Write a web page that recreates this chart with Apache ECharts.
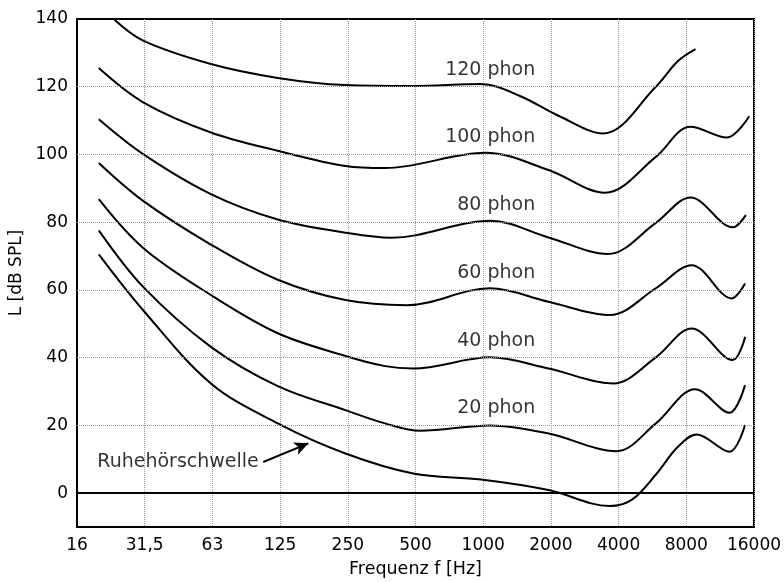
<!DOCTYPE html>
<html>
<head>
<meta charset="utf-8">
<script src="https://cdn.jsdelivr.net/npm/echarts@6/dist/echarts.min.js"></script>
<style>
  html, body { margin: 0; padding: 0; background: #fff; }
  #chart { width: 784px; height: 582px; }
</style>
</head>
<body>
<div id="chart"></div>
<script>
// x-axis: octaves above 16 Hz, labelled with the nominal band frequencies
const freqLabels = ['16', '31,5', '63', '125', '250', '500', '1000', '2000', '4000', '8000', '16000']
const yLabelValues = [0, 20, 40, 60, 80, 100, 120, 140]
const yGridValues = [20, 40, 60, 80, 100, 120]

// curves as [frequency Hz, level dB SPL]
const phon120 = [[23.3, 140], [31.5, 133.6], [63, 126.7], [125, 122.6], [250, 120.5], [500, 120.2], [1000, 120.8], [1500, 117.2], [2200, 111.5], [3500, 106.2], [6000, 120], [7500, 127.5], [9000, 131.1]]
const phon100 = [[20, 125.5], [31.5, 115.4], [63, 106.5], [125, 101.1], [250, 96.6], [375, 96], [1050, 100.5], [2000, 95.4], [3565, 88.7], [6000, 99.3], [8550, 108.2], [12400, 105], [15600, 111.3]]
const phon80 = [[20, 110.4], [31.5, 100.1], [63, 88.3], [125, 80.8], [250, 76.9], [400, 75.4], [1100, 80.4], [2000, 75.5], [3670, 70.6], [6000, 79.8], [8550, 87.3], [13200, 78.5], [15070, 82.1]]
const phon60 = [[20, 97.5], [31.5, 86.3], [63, 73.4], [125, 63], [250, 57], [468, 55.5], [1100, 60.5], [2000, 56.5], [3740, 52.6], [6000, 60.5], [8650, 67.3], [13050, 57.5], [14950, 61.9]]
const phon40 = [[20, 86.8], [31.5, 72.4], [63, 58.5], [125, 47.2], [250, 40.5], [375, 37.5], [500, 36.8], [1100, 40.1], [2000, 36.8], [3870, 32.4], [6000, 40.1], [8650, 48.6], [13170, 39.3], [14980, 46.2]]
const phon20 = [[20, 77.6], [31.5, 60.9], [63, 43.2], [125, 31.6], [250, 24.5], [375, 20.6], [537, 18.4], [1100, 20], [2000, 17.6], [4010, 12.4], [6000, 20.6], [8960, 30.7], [12750, 23.7], [14950, 31.9]]
const threshold = [[20, 70.5], [31.5, 54], [63, 32.4], [125, 20.6], [250, 11.7], [500, 5.8], [1000, 4], [2000, 0.9], [3740, -3.8], [4700, -1.9], [6000, 5.5], [7500, 13.6], [9090, 17.3], [12750, 12.2], [14950, 20.1]]

const phonNames = ['120 phon', '100 phon', '80 phon', '60 phon', '40 phon', '20 phon']
const phonLevels = [120, 100, 80, 60, 40, 20]
const labelFreq = 1745
const thresholdText = 'Ruhehörschwelle'
const thresholdTextPos = [19.7, 9.2]
const arrowFrom = [107.7, 9.2]
const arrowTo = [171, 14.7]

const fontFamily = 'DejaVu Sans'
const toX = f => Math.log2(f / 16)

function curve(name, pts) {
  return {
    name: name,
    type: 'line',
    data: pts.map(p => [toX(p[0]), p[1]]),
    smooth: 0.35,
    showSymbol: false,
    lineStyle: { color: '#000', width: 2 },
    z: 3,
  }
}

const curves = [phon120, phon100, phon80, phon60, phon40, phon20]
const series = curves.map((c, i) => curve(phonNames[i], c))

const thresholdSeries = curve(thresholdText, threshold)
thresholdSeries.markLine = {
  silent: true,
  symbol: ['none', 'arrow'],
  symbolSize: [10, 14],
  label: { show: false },
  lineStyle: { color: '#000', width: 2, type: 'solid' },
  data: [
    [{ coord: [toX(arrowFrom[0]), arrowFrom[1]] }, { coord: [toX(arrowTo[0]), arrowTo[1]] }],
  ],
}
series.push(thresholdSeries)

// dotted horizontal grid + solid zero line
series.push({
  type: 'line',
  data: [],
  z: 1,
  markLine: {
    silent: true,
    symbol: 'none',
    label: { show: false },
    lineStyle: { color: '#999', width: 1, type: 'dotted' },
    data: yGridValues.map(v => ({ yAxis: v })),
  },
})
series.push({
  type: 'line',
  data: [],
  z: 2,
  markLine: {
    silent: true,
    symbol: 'none',
    label: { show: false },
    lineStyle: { color: '#000', width: 2, type: 'solid' },
    data: [{ yAxis: 0 }],
  },
})

const textStyle = {
  show: true,
  position: 'inside',
  verticalAlign: 'middle',
  formatter: p => p.name,
  color: '#000',
  fontSize: 19,
  fontFamily: fontFamily,
}

// curve labels
series.push({
  type: 'scatter',
  symbolSize: 0,
  data: phonLevels.map((lv, i) => ({ name: phonNames[i], value: [toX(labelFreq), lv + 5] })),
  label: { ...textStyle, align: 'right' },
})
series.push({
  type: 'scatter',
  symbolSize: 0,
  data: [{ name: thresholdText, value: [toX(thresholdTextPos[0]), thresholdTextPos[1]] }],
  label: { ...textStyle, align: 'left' },
})

const option = {
  animation: false,
  backgroundColor: '#fff',
  grid: {
    left: 77,
    right: 30,
    top: 19,
    bottom: 55,
    show: true,
    borderColor: '#000',
    borderWidth: 2,
    outerBoundsMode: 'none',
  },
  xAxis: {
    type: 'value',
    min: 0,
    max: 10,
    interval: 1,
    name: 'Frequenz f [Hz]',
    nameLocation: 'middle',
    nameGap: 33,
    nameTextStyle: { fontSize: 17.5, color: '#000', fontFamily: fontFamily },
    axisLine: { show: true, onZero: false, lineStyle: { color: '#000', width: 2 } },
    axisTick: { show: false },
    axisLabel: {
      margin: 10,
      fontSize: 17,
      color: '#000',
      fontFamily: fontFamily,
      formatter: v => freqLabels[Math.round(v)] || '',
    },
    splitLine: { show: true, lineStyle: { color: '#999', type: 'dotted', width: 1 } },
  },
  yAxis: {
    type: 'value',
    min: -10,
    max: 140,
    interval: 10,
    name: 'L [dB SPL]',
    nameLocation: 'middle',
    nameGap: 52,
    nameTextStyle: { fontSize: 17, color: '#000', fontFamily: fontFamily },
    axisLine: { show: true, onZero: false, lineStyle: { color: '#000', width: 2 } },
    axisTick: { show: false },
    axisLabel: {
      margin: 9,
      fontSize: 17,
      color: '#000',
      fontFamily: fontFamily,
      formatter: v => (yLabelValues.indexOf(v) >= 0 ? String(v) : ''),
    },
    splitLine: { show: false },
  },
  series: series,
}

const chart = echarts.init(document.getElementById('chart'), null, { renderer: 'canvas' })
chart.setOption(option)
</script>
</body>
</html>
